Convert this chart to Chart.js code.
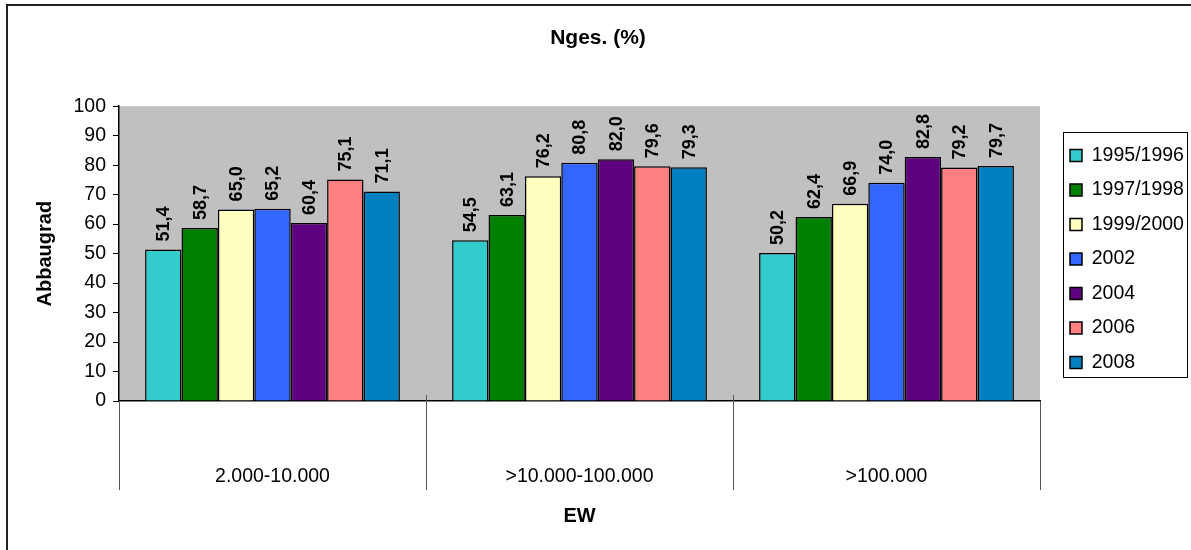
<!DOCTYPE html>
<html>
<head>
<meta charset="utf-8">
<script src="https://cdn.jsdelivr.net/npm/chart.js@4/dist/chart.umd.min.js"></script>
<style>
  html, body { margin: 0; padding: 0; background: #fff; }
  canvas { display: block; }
</style>
</head>
<body>
<canvas id="grafico" width="1191" height="550"></canvas>
<script>
const categorias = ['2.000-10.000', '>10.000-100.000', '>100.000'];
const anios = ['1995/1996', '1997/1998', '1999/2000', '2002', '2004', '2006', '2008'];
const colores = ['#33CCCC', '#008000', '#FFFFC0', '#3366FF', '#5F0080', '#FF8080', '#0080C0'];

const v1995 = [51.4, 54.5, 50.2];
const v1997 = [58.7, 63.1, 62.4];
const v1999 = [65.0, 76.2, 66.9];
const v2002 = [65.2, 80.8, 74.0];
const v2004 = [60.4, 82.0, 82.8];
const v2006 = [75.1, 79.6, 79.2];
const v2008 = [71.1, 79.3, 79.7];
const series = [v1995, v1997, v1999, v2002, v2004, v2006, v2008];

const ticksY = [0, 10, 20, 30, 40, 50, 60, 70, 80, 90, 100];

const FUENTE = "'Liberation Sans', Arial, sans-serif";

// fondo gris del area y marco exterior
const fondo = {
  id: 'fondo',
  beforeDraw(chart) {
    const { ctx, chartArea: a } = chart;
    ctx.save();
    ctx.fillStyle = '#C0C0C0';
    ctx.fillRect(a.left, a.top, a.right - a.left, a.bottom - a.top);
    ctx.strokeStyle = '#222';
    ctx.lineWidth = 2;
    ctx.beginPath();
    ctx.moveTo(7, 560);
    ctx.lineTo(7, 5);
    ctx.lineTo(1200, 5);
    ctx.stroke();
    ctx.restore();
  }
};

// ancho fijo de la leyenda y su posicion
const leyendaFija = {
  id: 'leyendaFija',
  afterInit(chart) {
    const lg = chart.legend;
    const fit = lg.fit;
    lg.fit = function () {
      fit.call(this);
      if (!this.isHorizontal()) this.width = 151;
    };
  },
  afterLayout(chart) {
    const lg = chart.legend;
    const w = lg.right - lg.left;
    lg.left = 1070 - lg.options.labels.padding;
    lg.right = lg.left + w;
    lg.top -= 16;
    lg.bottom -= 16;
  }
};

// etiquetas de valor giradas
const etiquetas = {
  id: 'etiquetas',
  afterDatasetsDraw(chart) {
    const ctx = chart.ctx;
    ctx.save();
    ctx.fillStyle = '#000';
    ctx.font = 'bold 18px ' + FUENTE;
    ctx.textAlign = 'left';
    ctx.textBaseline = 'middle';
    chart.data.datasets.forEach((ds, i) => {
      chart.getDatasetMeta(i).data.forEach((bar, j) => {
        const txt = ds.data[j].toFixed(1).replace('.', ',');
        ctx.save();
        ctx.translate(bar.x + 1, bar.y - 8);
        ctx.rotate(-Math.PI / 2);
        ctx.fillText(txt, 0, 0);
        ctx.restore();
      });
    });
    ctx.restore();
  }
};

// separadores de categorias y marco de la leyenda
const separadores = {
  id: 'separadores',
  afterDraw(chart) {
    const { ctx, chartArea: a } = chart;
    const x = chart.scales.x;
    const paso = x.getPixelForValue(1) - x.getPixelForValue(0);
    ctx.save();
    ctx.strokeStyle = '#555';
    ctx.lineWidth = 1;
    for (let i = 0; i <= categorias.length; i++) {
      const px = Math.round(x.getPixelForValue(0) - paso / 2 + i * paso) + 0.5;
      const y0 = (i === 0 || i === categorias.length) ? a.bottom : a.bottom - 6;
      ctx.beginPath();
      ctx.moveTo(px, y0);
      ctx.lineTo(px, 490);
      ctx.stroke();
    }
    const cajas = chart.legend.legendHitBoxes;
    if (cajas && cajas.length) {
      const izq = Math.min(...cajas.map(b => b.left)) - 7;
      const der = Math.max(...cajas.map(b => b.left + b.width)) + 3;
      const ult = cajas[cajas.length - 1];
      const aba = ult.top + ult.height + 5;
      const arr = aba - 245;
      ctx.strokeStyle = '#000';
      ctx.strokeRect(Math.round(izq) + 0.5, Math.round(arr) + 0.5, Math.round(der - izq), Math.round(aba - arr));
    }
    ctx.restore();
  }
};

const ctx = document.getElementById('grafico').getContext('2d');
const grafico = new Chart(ctx, {
  type: 'bar',
  data: {
    labels: categorias,
    datasets: anios.map((a, i) => ({
      label: a,
      data: series[i],
      backgroundColor: colores[i],
      borderColor: '#000',
      borderWidth: 1.5,
      borderSkipped: 'bottom',
      categoryPercentage: 0.83,
      barPercentage: 1
    }))
  },
  options: {
    responsive: false,
    devicePixelRatio: 1,
    animation: false,
    layout: { padding: { left: 5, right: 0, top: 0, bottom: 0 } },
    plugins: {
      title: {
        display: true,
        text: 'Nges. (%)',
        color: '#000',
        font: { family: FUENTE, size: 21, weight: 'bold' },
        padding: { top: 26, bottom: 55 }
      },
      legend: {
        position: 'right',
        align: 'center',
        labels: {
          color: '#000',
          font: { family: FUENTE, size: 19.5 },
          boxWidth: 12,
          boxHeight: 12,
          padding: 15,
          generateLabels(chart) {
            return chart.data.datasets.map((ds, i) => ({
              text: ds.label,
              fillStyle: ds.backgroundColor,
              strokeStyle: '#000',
              lineWidth: 1.5,
              datasetIndex: i
            }));
          }
        }
      },
      tooltip: { enabled: false }
    },
    scales: {
      x: {
        grid: { display: false },
        border: { display: true, color: '#000', width: 1.5 },
        ticks: {
          color: '#000',
          font: { family: FUENTE, size: 19.5 },
          padding: 56,
          maxRotation: 0
        },
        title: {
          display: true,
          text: 'EW',
          color: '#000',
          font: { family: FUENTE, size: 20, weight: 'bold' },
          padding: { top: 0, bottom: 22 }
        },
        afterFit(s) { s.height = 149; }
      },
      y: {
        min: 0,
        max: 100,
        afterBuildTicks(s) { s.ticks = ticksY.map(v => ({ value: v })); },
        grid: { drawOnChartArea: false, color: '#000', tickLength: 6 },
        border: { display: true, color: '#000', width: 1.5 },
        ticks: {
          color: '#000',
          font: { family: FUENTE, size: 19.5 },
          padding: 7
        },
        title: {
          display: true,
          text: 'Abbaugrad',
          color: '#000',
          font: { family: FUENTE, size: 20, weight: 'bold' },
          padding: { top: 28, bottom: 0 }
        },
        afterFit(s) { s.width = 114; }
      }
    }
  },
  plugins: [fondo, leyendaFija, etiquetas, separadores]
});
</script>
</body>
</html>
